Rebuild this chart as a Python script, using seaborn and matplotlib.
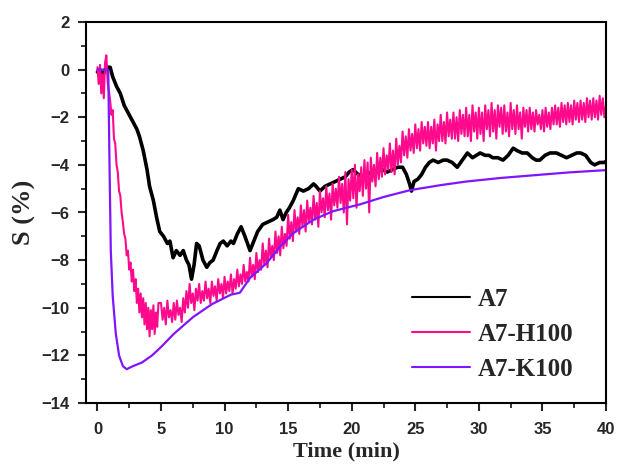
import matplotlib
matplotlib.use("Agg")
import matplotlib.pyplot as plt
from matplotlib.ticker import MultipleLocator
import seaborn as sns
import pandas as pd

# ---------------- data ----------------
labels = ["A7", "A7-H100", "A7-K100"]
colors = ["#000000", "#FF0A8C", "#8016FF"]

a7_time = [0, 0.2, 0.4, 0.6, 0.8, 1.0, 1.2, 1.5, 1.8, 2.1, 2.3, 2.6, 2.9, 3.1, 3.3, 3.6, 3.9,
           4.1, 4.4, 4.65, 4.9, 5.2, 5.5, 5.7, 5.95, 6.2, 6.5, 6.75, 7.0, 7.2, 7.4, 7.6, 7.8,
           8.0, 8.3, 8.6, 8.85, 9.1, 9.4, 9.65, 9.9, 10.2, 10.5, 10.7, 11.0, 11.3, 11.6, 12.0,
           12.3, 12.6, 13.0, 13.4, 13.8, 14.1, 14.35, 14.6, 14.85, 15.1, 15.4, 15.8, 16.2, 16.6,
           17.0, 17.2, 17.5, 17.9, 18.3, 18.7, 19.1, 19.5, 19.8, 20.1, 20.5, 20.9, 21.2, 21.6,
           22.0, 22.4, 22.8, 23.2, 23.6, 24.0, 24.3, 24.55, 24.7, 24.9, 25.2, 25.5, 25.8, 26.1,
           26.4, 26.8, 27.2, 27.5, 27.9, 28.3, 28.7, 29.1, 29.5, 29.8, 30.1, 30.5, 30.8, 31.1,
           31.5, 31.9, 32.3, 32.7, 33.0, 33.4, 33.8, 34.2, 34.5, 34.8, 35.2, 35.6, 36.1, 36.5,
           36.9, 37.3, 37.7, 38.0, 38.4, 38.8, 39.1, 39.5, 39.9, 40.0]
a7_s = [-0.1, 0.0, -0.3, 0.0, 0.1, 0.1, -0.3, -0.7, -1.0, -1.5, -1.7, -2.0, -2.3, -2.5, -2.8, -3.4, -4.2,
        -4.9, -5.5, -6.2, -6.8, -7.0, -7.3, -7.2, -7.9, -7.6, -7.8, -7.6, -8.0, -8.2, -8.8, -8.2, -7.3,
        -7.4, -8.0, -8.3, -8.1, -8.0, -7.6, -7.3, -7.2, -7.4, -7.2, -7.3, -6.9, -6.6, -7.0, -7.6,
        -7.2, -6.8, -6.5, -6.4, -6.3, -6.2, -5.9, -6.3, -6.0, -5.8, -5.5, -5.0, -5.1, -5.0,
        -4.8, -4.9, -5.1, -4.9, -4.8, -4.7, -4.6, -4.5, -4.3, -4.2, -4.4, -4.5, -4.3, -4.4,
        -4.3, -4.2, -4.3, -4.2, -4.1, -4.1, -4.4, -4.8, -5.1, -4.7, -4.6, -4.4, -4.1, -3.9,
        -3.8, -3.9, -3.8, -3.8, -3.9, -4.1, -3.8, -3.5, -3.7, -3.6, -3.5, -3.6, -3.6, -3.7,
        -3.7, -3.8, -3.6, -3.3, -3.4, -3.5, -3.5, -3.7, -3.8, -3.8, -3.6, -3.5, -3.5, -3.6,
        -3.7, -3.6, -3.5, -3.5, -3.6, -3.9, -4.0, -3.9, -3.9, -3.85]

h100_time = [0.0, 0.1, 0.2, 0.3, 0.4, 0.5, 0.6, 0.7, 0.8, 0.9, 1.0, 1.1, 1.2, 1.3, 1.4, 1.5,
             1.6, 1.7, 1.8, 1.9, 2.0, 2.1, 2.2, 2.3, 2.4, 2.5, 2.6, 2.7, 2.8, 2.9, 3.0, 3.1,
             3.2, 3.3, 3.4, 3.5, 3.6, 3.7, 3.8, 3.9, 4.0, 4.1, 4.2, 4.3, 4.4, 4.5, 4.6, 4.7, 4.8,
             5.0, 5.125, 5.25, 5.375, 5.5, 5.625, 5.75, 5.875,
             6.0, 6.125, 6.25, 6.375, 6.5, 6.625, 6.75, 6.875,
             7.0, 7.125, 7.25, 7.375, 7.5, 7.625, 7.75, 7.875,
             8.0, 8.125, 8.25, 8.375, 8.5, 8.625, 8.75, 8.875,
             9.0, 9.125, 9.25, 9.375, 9.5, 9.625, 9.75, 9.875,
             10.0, 10.125, 10.25, 10.375, 10.5, 10.625, 10.75, 10.875,
             11.0, 11.125, 11.25, 11.375, 11.5, 11.625, 11.75, 11.875,
             12.0, 12.125, 12.25, 12.375, 12.5, 12.625, 12.75, 12.875,
             13.0, 13.125, 13.25, 13.375, 13.5, 13.625, 13.75, 13.875,
             14.0, 14.125, 14.25, 14.375, 14.5, 14.625, 14.75, 14.875,
             15.0, 15.125, 15.25, 15.375, 15.5, 15.625, 15.75, 15.875,
             16.0, 16.125, 16.25, 16.375, 16.5, 16.625, 16.75, 16.875,
             17.0, 17.125, 17.25, 17.375, 17.5, 17.625, 17.75, 17.875,
             18.0, 18.125, 18.25, 18.375, 18.5, 18.625, 18.75, 18.875,
             19.0, 19.125, 19.25, 19.375, 19.5, 19.625, 19.75, 19.875,
             20.0, 20.125, 20.25, 20.375, 20.5, 20.625, 20.75, 20.875,
             21.0, 21.125, 21.25, 21.375, 21.5, 21.625, 21.75, 21.875,
             22.0, 22.125, 22.25, 22.375, 22.5, 22.625, 22.75, 22.875,
             23.0, 23.125, 23.25, 23.375, 23.5, 23.625, 23.75, 23.875,
             24.0, 24.125, 24.25, 24.375, 24.5, 24.625, 24.75, 24.875,
             25.0, 25.125, 25.25, 25.375, 25.5, 25.625, 25.75, 25.875,
             26.0, 26.125, 26.25, 26.375, 26.5, 26.625, 26.75, 26.875,
             27.0, 27.125, 27.25, 27.375, 27.5, 27.625, 27.75, 27.875,
             28.0, 28.125, 28.25, 28.375, 28.5, 28.625, 28.75, 28.875,
             29.0, 29.125, 29.25, 29.375, 29.5, 29.625, 29.75, 29.875,
             30.0, 30.125, 30.25, 30.375, 30.5, 30.625, 30.75, 30.875,
             31.0, 31.125, 31.25, 31.375, 31.5, 31.625, 31.75, 31.875,
             32.0, 32.125, 32.25, 32.375, 32.5, 32.625, 32.75, 32.875,
             33.0, 33.125, 33.25, 33.375, 33.5, 33.625, 33.75, 33.875,
             34.0, 34.125, 34.25, 34.375, 34.5, 34.625, 34.75, 34.875,
             35.0, 35.125, 35.25, 35.375, 35.5, 35.625, 35.75, 35.875,
             36.0, 36.125, 36.25, 36.375, 36.5, 36.625, 36.75, 36.875,
             37.0, 37.125, 37.25, 37.375, 37.5, 37.625, 37.75, 37.875,
             38.0, 38.125, 38.25, 38.375, 38.5, 38.625, 38.75, 38.875,
             39.0, 39.125, 39.25, 39.375, 39.5, 39.625, 39.75, 39.875,
             40.0]
h100_s = [0.1, -0.6, 0.2, -1.0, -0.2, -1.2, 0.3, 0.6, -0.5, -0.9, -1.3, -1.9, -1.7, -2.9, -3.1, -4.0,
          -4.3, -5.1, -5.3, -6.0, -6.4, -6.9, -7.1, -7.8, -7.6, -8.4, -8.1, -8.9, -8.4, -9.3, -8.8, -9.8,
          -9.2, -10.2, -9.4, -10.4, -9.6, -10.7, -9.8, -10.9, -10.0, -11.2, -10.1, -10.9, -9.9, -11.1,
          -10.2, -10.8, -9.8,
          -9.8, -10.5, -10.0, -10.7, -9.7, -10.4, -10.1, -10.6,
          -9.8, -10.5, -9.7, -10.3, -10.0, -10.6, -9.6, -10.2,
          -9.3, -10.0, -9.0, -9.8, -9.4, -10.1, -9.2, -9.7,
          -9.0, -9.8, -9.3, -9.7, -8.9, -9.6, -9.2, -9.8,
          -8.9, -9.5, -9.1, -9.7, -8.8, -9.4, -9.0, -9.6,
          -8.7, -9.4, -8.9, -9.3, -8.6, -9.4, -8.8, -9.2,
          -8.4, -9.1, -8.6, -9.0, -8.2, -8.9, -8.5, -8.9,
          -7.9, -8.7, -8.2, -8.8, -7.7, -8.5, -8.0, -8.4,
          -7.3, -8.2, -7.6, -8.3, -7.1, -7.9, -7.4, -8.0,
          -6.8, -7.7, -7.0, -7.8, -6.6, -7.5, -6.9, -7.4,
          -6.1, -7.1, -6.4, -7.2, -5.9, -6.8, -6.2, -6.9,
          -5.7, -6.6, -5.9, -6.8, -5.5, -6.4, -5.8, -6.5,
          -5.3, -6.3, -5.6, -6.6, -5.1, -6.0, -5.4, -6.2,
          -4.9, -5.9, -5.2, -6.3, -4.8, -5.7, -5.0, -5.8,
          -4.5, -5.6, -4.8, -6.0, -4.3, -6.5, -4.6, -5.5,
          -4.2, -5.4, -4.0, -5.8, -4.4, -5.1, -4.1, -5.3,
          -3.8, -5.0, -3.9, -6.0, -3.7, -4.7, -4.0, -4.9,
          -3.5, -4.6, -3.7, -4.5, -3.3, -4.4, -3.6, -4.2,
          -3.1, -4.3, -3.4, -4.4, -2.9, -4.0, -3.2, -3.9,
          -2.6, -3.6, -2.8, -3.7, -2.5, -3.4, -2.7, -3.5,
          -2.3, -3.3, -2.5, -3.4, -2.2, -3.1, -2.4, -3.2,
          -2.2, -3.3, -2.4, -3.1, -2.1, -3.4, -2.3, -3.0,
          -1.9, -3.0, -2.2, -3.1, -1.8, -2.8, -2.1, -2.9,
          -1.8, -2.9, -2.0, -3.0, -1.7, -2.7, -1.9, -2.8,
          -1.6, -2.8, -1.9, -3.0, -1.5, -2.6, -1.8, -2.9,
          -1.6, -2.7, -1.8, -3.0, -1.5, -2.5, -1.7, -2.8,
          -1.4, -2.6, -1.7, -2.9, -1.5, -2.4, -1.6, -2.7,
          -1.5, -2.6, -1.8, -2.8, -1.4, -2.5, -1.7, -2.7,
          -1.5, -2.5, -1.8, -2.9, -1.6, -2.4, -1.7, -2.6,
          -1.6, -2.5, -1.8, -2.6, -1.7, -2.3, -1.9, -2.5,
          -1.7, -2.6, -1.6, -2.4, -1.8, -2.5, -1.6, -2.3,
          -1.5, -2.3, -1.6, -2.4, -1.4, -2.2, -1.5, -2.3,
          -1.4, -2.2, -1.5, -2.3, -1.3, -2.1, -1.4, -2.2,
          -1.3, -2.1, -1.4, -2.2, -1.2, -2.0, -1.3, -2.1,
          -1.2, -2.0, -1.3, -2.1, -1.1, -1.9, -1.2, -2.0,
          -1.5]

k100_time = [0, 0.85, 0.9, 0.95, 1.05, 1.2, 1.44, 1.7, 2.0, 2.3, 2.8, 3.5, 4.3, 5.0, 6.0, 7.5,
             9.0, 10.5, 11.2, 12.0, 13.3, 14.5, 15.4, 17.0, 18.5, 20.7, 22.5, 24.6, 27.0, 29.0,
             31.7, 34.0, 37.0, 40.0]
k100_s = [0.0, 0.0, -2.0, -4.0, -7.6, -9.5, -11.07, -12.0, -12.45, -12.58, -12.45, -12.3, -12.0,
          -11.65, -11.1, -10.4, -9.85, -9.45, -9.37, -8.75, -8.13, -7.35, -6.87, -6.3, -5.95,
          -5.65, -5.35, -5.06, -4.85, -4.7, -4.55, -4.45, -4.32, -4.22]

xticks = [0, 5, 10, 15, 20, 25, 30, 35, 40]
yticks = [-14, -12, -10, -8, -6, -4, -2, 0, 2]

# ---------------- plotting ----------------
sns.set_style("ticks")
plt.rcParams["font.family"] = ["Liberation Sans", "DejaVu Sans"]

series = [
    pd.DataFrame({"t": a7_time, "s": a7_s}),
    pd.DataFrame({"t": h100_time, "s": h100_s}),
    pd.DataFrame({"t": k100_time, "s": k100_s}),
]
widths = [2.6, 1.5, 1.6]

fig = plt.figure(figsize=(6.18, 4.69), dpi=100)
ax = fig.add_axes([86 / 618, 66 / 469, 520 / 618, 381 / 469])

for df, lab, col, lw in zip(series, labels, colors, widths):
    sns.lineplot(data=df, x="t", y="s", ax=ax, color=col, lw=lw, label=lab,
                 estimator=None, sort=False)

ax.set_xlim(-0.9, 40)
ax.set_ylim(-14, 2)
ax.set_xticks(xticks)
ax.set_yticks(yticks)
ax.xaxis.set_minor_locator(MultipleLocator(2.5))
ax.yaxis.set_minor_locator(MultipleLocator(1))
ax.tick_params(which="major", direction="out", length=6, width=1.5, labelsize=12,
               top=False, right=False)
ax.tick_params(axis="x", which="major", pad=8)
ax.tick_params(axis="y", which="major", pad=6)
ax.tick_params(which="minor", direction="out", length=3.5, width=1.3, top=False, right=False)
for lab in ax.get_xticklabels() + ax.get_yticklabels():
    lab.set_fontweight("bold")
for sp in ax.spines.values():
    sp.set_linewidth(1.5)
    sp.set_color("black")

serif = ["Liberation Serif", "DejaVu Serif"]
ax.set_xlabel("Time (min)", family=serif, fontsize=16, fontweight="bold", labelpad=3)
ax.set_ylabel("S (%)", family=serif, fontsize=19, fontweight="bold", labelpad=4)

leg = ax.legend(loc="lower right", bbox_to_anchor=(0.98, 0.0), frameon=False,
                prop={"family": serif, "weight": "bold", "size": 18},
                handlelength=2.3, handletextpad=0.3, labelspacing=0.48)
for h in leg.get_lines():
    h.set_linewidth(1.5)

fig.savefig("out.png", dpi=100)
